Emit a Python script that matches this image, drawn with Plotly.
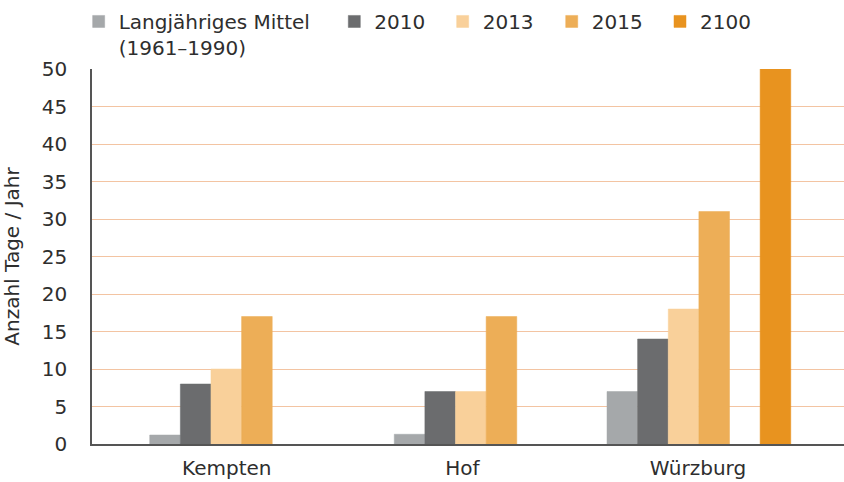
import plotly.graph_objects as go

# ---- data ----
categories = ["Kempten", "Hof", "Würzburg"]
series_names = ["Langjähriges Mittel<br>(1961–1990)", "2010", "2013", "2015", "2100"]
mittel = [1.2, 1.3, 7]
y2010 = [8, 7, 14]
y2013 = [10, 7, 18]
y2015 = [17, 17, 31]
y2100 = [None, None, 50]
y_ticks = [0, 5, 10, 15, 20, 25, 30, 35, 40, 45, 50]

# ---- styles ----
colors = ["#a5a8aa", "#6b6c6e", "#f9d09a", "#edae57", "#e8931f"]
bar_w = 0.13
group_start = [-0.327, -0.289, -0.386]   # left edge of first bar per category
slot_index = [0, 1, 2, 3, 5]              # 2100 sits after an empty slot
legend_x = [0.0932, 0.3961, 0.5245, 0.6537, 0.782]
font_family = "DejaVu Sans"
text_color = "#2e2e2e"

fig = go.Figure()
all_series = [mittel, y2010, y2013, y2015, y2100]
legend_ids = ["legend", "legend2", "legend3", "legend4", "legend5"]
for name, vals, col, slot, lid in zip(series_names, all_series, colors, slot_index, legend_ids):
    fig.add_trace(go.Bar(
        x=categories, y=vals, name=name,
        marker=dict(color=col, line=dict(color=col, width=0.5)),
        width=bar_w,
        offset=[g + slot * bar_w for g in group_start],
        legend=lid,
    ))

legend_common = dict(
    orientation="h", xref="container", yref="container",
    y=0.996, xanchor="left", yanchor="top",
    font=dict(size=20, color=text_color), itemclick=False, valign="top",
    bgcolor="rgba(0,0,0,0)",
)
legend_layout = {lid: dict(legend_common, x=lx) for lid, lx in zip(legend_ids, legend_x)}

fig.update_layout(
    width=844, height=482,
    barmode="overlay",
    paper_bgcolor="white", plot_bgcolor="white",
    margin=dict(l=92, r=0, t=69, b=38, autoexpand=False),
    font=dict(family=font_family, size=20, color=text_color),
    showlegend=True,
    xaxis=dict(
        type="category", range=[-0.572, 2.62],
        showline=True, linecolor="#555", linewidth=1.5,
        showgrid=False, ticks="", ticklabelstandoff=5,
        tickfont=dict(size=20), fixedrange=True,
    ),
    yaxis=dict(
        range=[0, 50], tickvals=y_ticks,
        showline=True, linecolor="#555", linewidth=1.5,
        showgrid=True, gridcolor="#f3c4a2", gridwidth=1,
        zeroline=False, ticks="", ticklabelstandoff=19,
        tickfont=dict(size=20), fixedrange=True,
        title=dict(text="Anzahl Tage / Jahr", font=dict(size=20), standoff=18),
        automargin=False,
    ),
    **legend_layout,
)

fig.write_html("out.html", config={"displayModeBar": False},
               post_script="document.body.style.margin='0px';")
